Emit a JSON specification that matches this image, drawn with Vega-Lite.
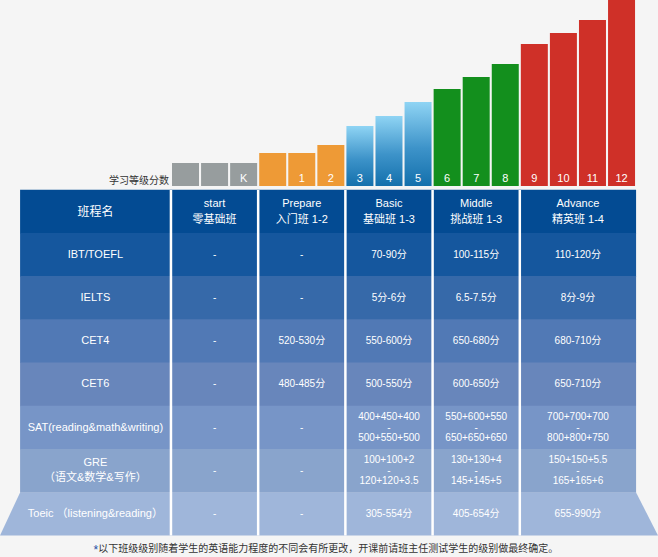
{
  "$schema": "https://vega.github.io/schema/vega-lite/v6.json",
  "background": "#f5f5f5",
  "padding": 0,
  "spacing": 0,
  "resolve": {"scale": {"color": "independent", "x": "independent", "y": "independent"}},
  "config": {"view": {"stroke": null}, "font": "Liberation Sans, Noto Sans CJK SC, sans-serif", "scale": {"continuousPadding": 0}},
  "datasets": {
    "levels": [
      {"slot": 0, "grp": "gray", "lab": "", "h": 23},
      {"slot": 1, "grp": "gray", "lab": "", "h": 23},
      {"slot": 2, "grp": "gray", "lab": "K", "h": 23},
      {"slot": 3, "grp": "orange", "lab": "", "h": 33},
      {"slot": 4, "grp": "orange", "lab": "1", "h": 33},
      {"slot": 5, "grp": "orange", "lab": "2", "h": 41},
      {"slot": 6, "grp": "blue", "lab": "3", "h": 60},
      {"slot": 7, "grp": "blue", "lab": "4", "h": 70},
      {"slot": 8, "grp": "blue", "lab": "5", "h": 84},
      {"slot": 9, "grp": "green", "lab": "6", "h": 97},
      {"slot": 10, "grp": "green", "lab": "7", "h": 109},
      {"slot": 11, "grp": "green", "lab": "8", "h": 122},
      {"slot": 12, "grp": "red", "lab": "9", "h": 142},
      {"slot": 13, "grp": "red", "lab": "10", "h": 153},
      {"slot": 14, "grp": "red", "lab": "11", "h": 166},
      {"slot": 15, "grp": "red", "lab": "12", "h": 186}
    ],
    "cols": [
      {"cls": "班程名", "lo": -5.69, "hi": -0.5, "mid": -3.1},
      {"cls": "start", "lo": -0.5, "hi": 2.5, "mid": 1},
      {"cls": "Prepare", "lo": 2.5, "hi": 5.5, "mid": 4},
      {"cls": "Basic", "lo": 5.5, "hi": 8.5, "mid": 7},
      {"cls": "Middle", "lo": 8.5, "hi": 11.5, "mid": 10},
      {"cls": "Advance", "lo": 11.5, "hi": 15.5, "mid": 13.5}
    ],
    "rows": [
      {"exam": "header", "row": 0, "label": ""},
      {"exam": "IBT/TOEFL", "row": 1, "label": "IBT/TOEFL"},
      {"exam": "IELTS", "row": 2, "label": "IELTS"},
      {"exam": "CET4", "row": 3, "label": "CET4"},
      {"exam": "CET6", "row": 4, "label": "CET6"},
      {"exam": "SAT", "row": 5, "label": "SAT(reading&math&writing)"},
      {"exam": "GRE", "row": 6, "label": "GRE\n（语文&数学&写作）"},
      {"exam": "Toeic", "row": 7, "label": "Toeic  （listening&reading）"}
    ],
    "headers": [
      {"cls": "班程名", "t": "班程名"},
      {"cls": "start", "t": "start\n零基础班"},
      {"cls": "Prepare", "t": "Prepare\n入门班  1-2"},
      {"cls": "Basic", "t": "Basic\n基础班  1-3"},
      {"cls": "Middle", "t": "Middle\n挑战班  1-3"},
      {"cls": "Advance", "t": "Advance\n精英班  1-4"}
    ],
    "cells": [
      {"exam": "IBT/TOEFL", "cls": "start", "v": "-"},
      {"exam": "IBT/TOEFL", "cls": "Prepare", "v": "-"},
      {"exam": "IBT/TOEFL", "cls": "Basic", "v": "70-90分"},
      {"exam": "IBT/TOEFL", "cls": "Middle", "v": "100-115分"},
      {"exam": "IBT/TOEFL", "cls": "Advance", "v": "110-120分"},
      {"exam": "IELTS", "cls": "start", "v": "-"},
      {"exam": "IELTS", "cls": "Prepare", "v": "-"},
      {"exam": "IELTS", "cls": "Basic", "v": "5分-6分"},
      {"exam": "IELTS", "cls": "Middle", "v": "6.5-7.5分"},
      {"exam": "IELTS", "cls": "Advance", "v": "8分-9分"},
      {"exam": "CET4", "cls": "start", "v": "-"},
      {"exam": "CET4", "cls": "Prepare", "v": "520-530分"},
      {"exam": "CET4", "cls": "Basic", "v": "550-600分"},
      {"exam": "CET4", "cls": "Middle", "v": "650-680分"},
      {"exam": "CET4", "cls": "Advance", "v": "680-710分"},
      {"exam": "CET6", "cls": "start", "v": "-"},
      {"exam": "CET6", "cls": "Prepare", "v": "480-485分"},
      {"exam": "CET6", "cls": "Basic", "v": "500-550分"},
      {"exam": "CET6", "cls": "Middle", "v": "600-650分"},
      {"exam": "CET6", "cls": "Advance", "v": "650-710分"},
      {"exam": "SAT", "cls": "start", "v": "-"},
      {"exam": "SAT", "cls": "Prepare", "v": "-"},
      {"exam": "SAT", "cls": "Basic", "v": "400+450+400\n-\n500+550+500"},
      {"exam": "SAT", "cls": "Middle", "v": "550+600+550\n-\n650+650+650"},
      {"exam": "SAT", "cls": "Advance", "v": "700+700+700\n-\n800+800+750"},
      {"exam": "GRE", "cls": "start", "v": "-"},
      {"exam": "GRE", "cls": "Prepare", "v": "-"},
      {"exam": "GRE", "cls": "Basic", "v": "100+100+2\n-\n120+120+3.5"},
      {"exam": "GRE", "cls": "Middle", "v": "130+130+4\n-\n145+145+5"},
      {"exam": "GRE", "cls": "Advance", "v": "150+150+5.5\n-\n165+165+6"},
      {"exam": "Toeic", "cls": "start", "v": "-"},
      {"exam": "Toeic", "cls": "Prepare", "v": "-"},
      {"exam": "Toeic", "cls": "Basic", "v": "305-554分"},
      {"exam": "Toeic", "cls": "Middle", "v": "405-654分"},
      {"exam": "Toeic", "cls": "Advance", "v": "655-990分"}
    ]
  },
  "vconcat": [
    {
      "width": 658,
      "height": 186,
      "data": {"name": "levels"},
      "layer": [
        {
          "transform": [{"filter": "datum.grp != 'blue'"}],
          "mark": {"type": "bar", "orient": "vertical", "size": 27},
          "encoding": {
            "x": {"field": "slot", "type": "quantitative", "scale": {"domain": [-6.381, 16.254], "nice": false, "zero": false}, "axis": null},
            "y": {"field": "h", "type": "quantitative", "scale": {"domain": [0, 186], "nice": false}, "axis": null, "stack": null},
            "color": {"field": "grp", "type": "nominal", "legend": null,
              "scale": {"domain": ["gray", "orange", "green", "red"], "range": ["#979d9e", "#ee9a36", "#138f1d", "#cf3028"]}}
          }
        },
        {
          "transform": [{"filter": "datum.grp == 'blue'"}],
          "mark": {"type": "bar", "orient": "vertical", "size": 27,
            "color": {"gradient": "linear", "x1": 0, "y1": 0, "x2": 0, "y2": 1,
              "stops": [{"offset": 0, "color": "#8fd4f4"}, {"offset": 0.55, "color": "#3d93c9"}, {"offset": 1, "color": "#1470ac"}]}},
          "encoding": {
            "x": {"field": "slot", "type": "quantitative"},
            "y": {"field": "h", "type": "quantitative", "stack": null}
          }
        },
        {
          "mark": {"type": "text", "baseline": "bottom", "dy": -2, "color": "white", "fontSize": 11},
          "encoding": {
            "x": {"field": "slot", "type": "quantitative"},
            "y": {"datum": 0, "type": "quantitative"},
            "text": {"field": "lab"}
          }
        },
        {
          "data": {"values": [{"t": "学习等级分数", "pos": -0.57, "h": 0}]},
          "mark": {"type": "text", "align": "right", "baseline": "bottom", "dy": 0, "fontSize": 10, "color": "#333333"},
          "encoding": {
            "x": {"field": "pos", "type": "quantitative"},
            "y": {"field": "h", "type": "quantitative"},
            "text": {"field": "t"}
          }
        }
      ]
    },
    {
      "width": 658,
      "height": 371,
      "layer": [
        {
          "data": {"name": "rows"},
          "transform": [{"filter": "datum.row < 7"}],
          "mark": {"type": "bar", "orient": "horizontal", "size": 43.8},
          "encoding": {
            "x": {"datum": -5.69, "type": "quantitative", "scale": {"domain": [-6.381, 16.254], "nice": false, "zero": false}, "axis": null},
            "x2": {"datum": 15.5},
            "y": {"field": "row", "type": "quantitative", "scale": {"domain": [-0.5926, 7.995], "reverse": true, "nice": false, "zero": false}, "axis": null},
            "color": {"field": "exam", "type": "nominal", "legend": null,
              "scale": {"domain": ["header", "IBT/TOEFL", "IELTS", "CET4", "CET6", "SAT", "GRE"],
                        "range": ["#034b93", "#15579e", "#3669a9", "#5179b5", "#6886bb", "#7795c7", "#89a4cc"]}}
          }
        },
        {
          "data": {"values": [{"row": 6.5, "l": -5.69, "r": 15.5}, {"row": 7.5, "l": -6.381, "r": 16.254}]},
          "mark": {"type": "area", "orient": "horizontal", "color": "#9fb6da"},
          "encoding": {
            "y": {"field": "row", "type": "quantitative"},
            "x": {"field": "l", "type": "quantitative"},
            "x2": {"field": "r"}
          }
        },
        {
          "data": {"name": "cols"},
          "transform": [{"filter": "datum.cls != '班程名'"}],
          "mark": {"type": "rule", "color": "white", "strokeWidth": 2.5},
          "encoding": {
            "x": {"field": "lo", "type": "quantitative"},
            "y": {"datum": -0.5, "type": "quantitative"},
            "y2": {"datum": 7.5}
          }
        },
        {
          "data": {"name": "headers"},
          "transform": [{"filter": "datum.cls == '班程名'"}, {"lookup": "cls", "from": {"data": {"name": "cols"}, "key": "cls", "fields": ["mid"]}}],
          "mark": {"type": "text", "color": "white", "fontSize": 12, "baseline": "middle"},
          "encoding": {
            "x": {"field": "mid", "type": "quantitative"},
            "y": {"datum": 0, "type": "quantitative"},
            "text": {"field": "t"}
          }
        },
        {
          "data": {"name": "headers"},
          "transform": [{"filter": "datum.cls != '班程名'"}, {"lookup": "cls", "from": {"data": {"name": "cols"}, "key": "cls", "fields": ["mid"]}}],
          "mark": {"type": "text", "color": "white", "fontSize": 11, "lineBreak": "\n", "lineHeight": 16, "baseline": "middle", "dy": -8},
          "encoding": {
            "x": {"field": "mid", "type": "quantitative"},
            "y": {"datum": 0, "type": "quantitative"},
            "text": {"field": "t"}
          }
        },
        {
          "data": {"name": "rows"},
          "transform": [{"filter": "datum.row > 0 && datum.exam != 'GRE'"}],
          "mark": {"type": "text", "color": "white", "fontSize": 11, "baseline": "middle"},
          "encoding": {
            "x": {"datum": -3.1, "type": "quantitative"},
            "y": {"field": "row", "type": "quantitative"},
            "text": {"field": "label"}
          }
        },
        {
          "data": {"name": "rows"},
          "transform": [{"filter": "datum.exam == 'GRE'"}],
          "mark": {"type": "text", "color": "white", "fontSize": 11, "lineBreak": "\n", "lineHeight": 15, "baseline": "middle", "dy": -7.5},
          "encoding": {
            "x": {"datum": -3.1, "type": "quantitative"},
            "y": {"field": "row", "type": "quantitative"},
            "text": {"field": "label"}
          }
        },
        {
          "data": {"name": "cells"},
          "transform": [
            {"filter": "datum.exam != 'SAT' && datum.exam != 'GRE' || datum.v == '-'"},
            {"lookup": "cls", "from": {"data": {"name": "cols"}, "key": "cls", "fields": ["mid"]}},
            {"lookup": "exam", "from": {"data": {"name": "rows"}, "key": "exam", "fields": ["row"]}}
          ],
          "mark": {"type": "text", "color": "white", "fontSize": 10, "baseline": "middle"},
          "encoding": {
            "x": {"field": "mid", "type": "quantitative"},
            "y": {"field": "row", "type": "quantitative"},
            "text": {"field": "v"}
          }
        },
        {
          "data": {"name": "cells"},
          "transform": [
            {"filter": "(datum.exam == 'SAT' || datum.exam == 'GRE') && datum.v != '-'"},
            {"lookup": "cls", "from": {"data": {"name": "cols"}, "key": "cls", "fields": ["mid"]}},
            {"lookup": "exam", "from": {"data": {"name": "rows"}, "key": "exam", "fields": ["row"]}}
          ],
          "mark": {"type": "text", "color": "white", "fontSize": 10, "lineBreak": "\n", "lineHeight": 10.5, "baseline": "middle", "dy": -10.5},
          "encoding": {
            "x": {"field": "mid", "type": "quantitative"},
            "y": {"field": "row", "type": "quantitative"},
            "text": {"field": "v"}
          }
        },
        {
          "data": {"values": [{"t": "*", "pos": -3.0, "row": 7.8}]},
          "mark": {"type": "text", "align": "right", "baseline": "middle", "fontSize": 12, "color": "#1f4fa3", "dy": 1},
          "encoding": {
            "x": {"field": "pos", "type": "quantitative"},
            "y": {"field": "row", "type": "quantitative"},
            "text": {"field": "t"}
          }
        },
        {
          "data": {"values": [{"t": "以下班级级别随着学生的英语能力程度的不同会有所更改，开课前请班主任测试学生的级别做最终确定。", "pos": -3.0, "row": 7.8}]},
          "mark": {"type": "text", "align": "left", "baseline": "middle", "fontSize": 10, "color": "#333333"},
          "encoding": {
            "x": {"field": "pos", "type": "quantitative"},
            "y": {"field": "row", "type": "quantitative"},
            "text": {"field": "t"}
          }
        }
      ]
    }
  ]
}
